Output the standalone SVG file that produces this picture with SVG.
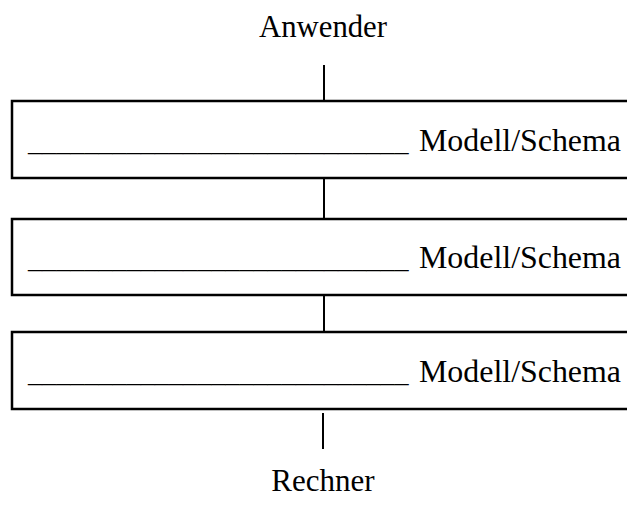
<svg xmlns="http://www.w3.org/2000/svg" width="627" height="509" viewBox="0 0 627 509">
<style>
.box{fill:#fff;stroke:#000;stroke-width:2.5}
.ln{stroke:#000;stroke-width:2;fill:none}
text{font-family:"Liberation Serif","Times New Roman",serif;font-size:31px;fill:#000}
text.us{font-size:28.2px}
</style>
<rect width="627" height="509" fill="#fff"/>
<g id="connectors">
<line class="ln" x1="324" y1="65" x2="324" y2="101"/>
<line class="ln" x1="324" y1="178" x2="324" y2="219"/>
<line class="ln" x1="324" y1="295" x2="324" y2="332"/>
<line class="ln" x1="323" y1="413" x2="323" y2="449"/>
</g>
<g id="anwender"><text x="323" y="37" text-anchor="middle" textLength="128" lengthAdjust="spacingAndGlyphs">Anwender</text></g>
<g id="schema1">
<rect class="box" x="12" y="101" width="630" height="77"/>
<text class="us" x="28" y="151">___________________________</text>
<text x="419" y="151" textLength="202" lengthAdjust="spacingAndGlyphs">Modell/Schema</text>
</g>
<g id="schema2">
<rect class="box" x="12" y="219" width="630" height="76"/>
<text class="us" x="28" y="268">___________________________</text>
<text x="419" y="268" textLength="202" lengthAdjust="spacingAndGlyphs">Modell/Schema</text>
</g>
<g id="schema3">
<rect class="box" x="12" y="332" width="630" height="77"/>
<text class="us" x="28" y="382">___________________________</text>
<text x="419" y="382" textLength="202" lengthAdjust="spacingAndGlyphs">Modell/Schema</text>
</g>
<g id="rechner"><text x="323" y="491" text-anchor="middle">Rechner</text></g>
</svg>
